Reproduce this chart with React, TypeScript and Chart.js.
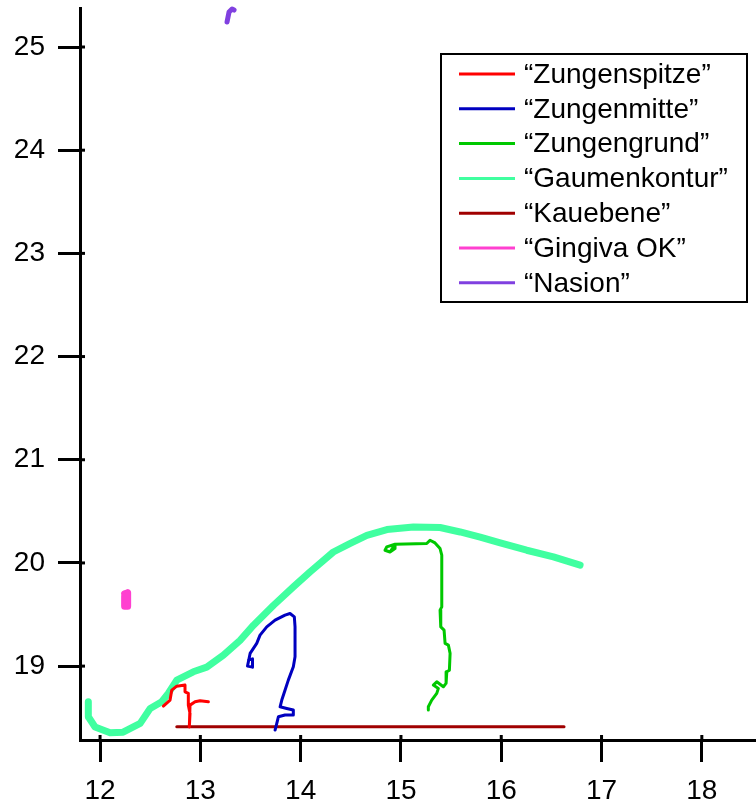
import { useEffect, useRef } from 'react';
import { Chart, registerables } from 'chart.js';

Chart.register(...registerables);

const seriesNames = ['“Zungenspitze”', '“Zungenmitte”', '“Zungengrund”', '“Gaumenkontur”', '“Kauebene”', '“Gingiva OK”', '“Nasion”'];
const seriesColors = ['#FF0000', '#0000C0', '#00C800', '#40FFA0', '#A00000', '#FF40D0', '#8040E0'];
const seriesWidths = [3, 3, 3, 7, 3, 7, 5];

const zungenspitzeX = [12.631, 12.698, 12.715, 12.765, 12.847, 12.847, 12.88, 12.88, 12.897, 12.89, 12.897, 12.947, 12.997, 13.08];
const zungenspitzeY = [18.613, 18.671, 18.768, 18.806, 18.816, 18.751, 18.736, 18.622, 18.542, 18.41, 18.622, 18.654, 18.664, 18.654];

const zungenmitteX = [13.48, 13.52, 13.52, 13.47, 13.496, 13.562, 13.595, 13.662, 13.745, 13.844, 13.894, 13.937, 13.944, 13.944, 13.927, 13.877, 13.844, 13.812, 13.795, 13.861, 13.927, 13.927, 13.844, 13.778, 13.762, 13.745];
const zungenmitteY = [19.06, 19.07, 18.99, 19.0, 19.123, 19.22, 19.3, 19.38, 19.445, 19.494, 19.51, 19.477, 19.38, 19.09, 18.993, 18.864, 18.767, 18.671, 18.606, 18.59, 18.574, 18.526, 18.526, 18.509, 18.445, 18.38];

const zungengrundX = [14.891, 14.841, 14.858, 14.941, 14.941, 14.891, 14.941, 15.257, 15.29, 15.34, 15.39, 15.407, 15.407, 15.39, 15.397, 15.43, 15.44, 15.473, 15.49, 15.483, 15.457, 15.45, 15.423, 15.357, 15.323, 15.373, 15.357, 15.307, 15.273, 15.273];
const zungengrundY = [20.106, 20.123, 20.155, 20.181, 20.139, 20.106, 20.181, 20.188, 20.22, 20.194, 20.139, 20.075, 19.574, 19.542, 19.38, 19.349, 19.22, 19.203, 19.123, 18.961, 18.945, 18.833, 18.8, 18.848, 18.816, 18.784, 18.736, 18.671, 18.606, 18.574];

const gaumenX = [11.883, 11.883, 11.95, 12.1, 12.23, 12.4, 12.5, 12.615, 12.68, 12.765, 12.93, 13.064, 13.23, 13.396, 13.53, 13.73, 13.93, 14.094, 14.326, 14.49, 14.66, 14.86, 15.124, 15.39, 15.59, 15.79, 15.99, 16.254, 16.52, 16.786];
const gaumenY = [18.654, 18.509, 18.41, 18.354, 18.36, 18.445, 18.59, 18.655, 18.735, 18.865, 18.945, 18.99, 19.106, 19.25, 19.397, 19.59, 19.77, 19.913, 20.106, 20.188, 20.268, 20.323, 20.348, 20.343, 20.3, 20.25, 20.194, 20.123, 20.058, 19.978];

const kauebeneX = [12.765, 16.626];
const kauebeneY = [18.412, 18.412];

const gingivaX = [12.245, 12.275, 12.275, 12.245, 12.245];
const gingivaY = [19.7, 19.71, 19.58, 19.58, 19.68];

const nasionX = [13.266, 13.286, 13.316, 13.336];
const nasionY = [25.242, 25.339, 25.368, 25.358];

const xTicks = [12, 13, 14, 15, 16, 17, 18];
const yTicks = [19, 20, 21, 22, 23, 24, 25];

const allX = [zungenspitzeX, zungenmitteX, zungengrundX, gaumenX, kauebeneX, gingivaX, nasionX];
const allY = [zungenspitzeY, zungenmitteY, zungengrundY, gaumenY, kauebeneY, gingivaY, nasionY];

const FONT = '"Liberation Sans", Arial, sans-serif';

const decorPlugin = {
  id: 'decor',
  afterDraw(chart: any) {
    const ctx = chart.ctx;
    const { left, bottom } = chart.chartArea;
    const xs = chart.scales.x;
    const ys = chart.scales.y;
    ctx.save();
    ctx.strokeStyle = '#000';
    ctx.lineWidth = 3;
    xs.ticks.forEach((t: any) => {
      const px = xs.getPixelForValue(t.value);
      ctx.beginPath();
      ctx.moveTo(px, bottom - 5);
      ctx.lineTo(px, bottom);
      ctx.stroke();
    });
    ys.ticks.forEach((t: any) => {
      const py = ys.getPixelForValue(t.value);
      ctx.beginPath();
      ctx.moveTo(left, py);
      ctx.lineTo(left + 5, py);
      ctx.stroke();
    });
    // legend box
    ctx.lineWidth = 2;
    ctx.strokeRect(441, 54, 306, 248);
    ctx.font = `28px ${FONT}`;
    ctx.textBaseline = 'middle';
    ctx.textAlign = 'left';
    ctx.fillStyle = '#000';
    seriesNames.forEach((name, i) => {
      const y = 74 + i * 34.8;
      ctx.strokeStyle = seriesColors[i];
      ctx.lineWidth = 3;
      ctx.beginPath();
      ctx.moveTo(459, y);
      ctx.lineTo(515, y);
      ctx.stroke();
      ctx.fillText(name, 524, y + 1);
    });
    ctx.restore();
  },
};

export default function App() {
  const ref = useRef<HTMLCanvasElement>(null);
  useEffect(() => {
    if (!ref.current) return;
    const datasets = seriesNames.map((name, i) => ({
      label: name,
      data: allX[i].map((x, j) => ({ x, y: allY[i][j] })),
      borderColor: seriesColors[i],
      backgroundColor: seriesColors[i],
      borderWidth: seriesWidths[i],
      pointRadius: 0,
      showLine: true,
      fill: false,
      tension: 0,
      clip: false as any,
      borderJoinStyle: 'round' as const,
      borderCapStyle: 'round' as const,
    }));
    const chart = new Chart(ref.current, {
      type: 'line',
      data: { datasets },
      options: {
        animation: false,
        responsive: false,
        layout: { padding: { top: 8, left: 0, right: 0, bottom: 0 } },
        plugins: { legend: { display: false }, tooltip: { enabled: false } },
        scales: {
          x: {
            type: 'linear',
            min: 11.8,
            max: 18.54,
            afterBuildTicks: (s: any) => { s.ticks = xTicks.map((v) => ({ value: v })); },
            afterFit: (s: any) => { s.height = 63; s.paddingLeft = 0; s.paddingRight = 0; },
            border: { color: '#000', width: 3 },
            grid: { drawOnChartArea: false, drawTicks: true, tickLength: 22, tickWidth: 3, tickColor: '#000', color: '#000' },
            ticks: { color: '#000', font: { size: 28, family: FONT }, padding: 12, maxRotation: 0 },
          },
          y: {
            type: 'linear',
            min: 18.284,
            max: 25.378,
            afterBuildTicks: (s: any) => { s.ticks = yTicks.map((v) => ({ value: v })); },
            afterFit: (s: any) => { s.width = 80; s.paddingTop = 0; s.paddingBottom = 0; },
            border: { color: '#000', width: 3 },
            grid: { drawOnChartArea: false, drawTicks: true, tickLength: 22, tickWidth: 3, tickColor: '#000', color: '#000' },
            ticks: { color: '#000', font: { size: 28, family: FONT }, padding: 13 },
          },
        },
      },
      plugins: [decorPlugin],
    });
    return () => chart.destroy();
  }, []);
  return (
    <div style={{ position: 'fixed', left: 0, top: 0, width: 756, height: 803, background: '#fff' }}>
      <canvas ref={ref} width={756} height={803} style={{ display: 'block' }} />
    </div>
  );
}
